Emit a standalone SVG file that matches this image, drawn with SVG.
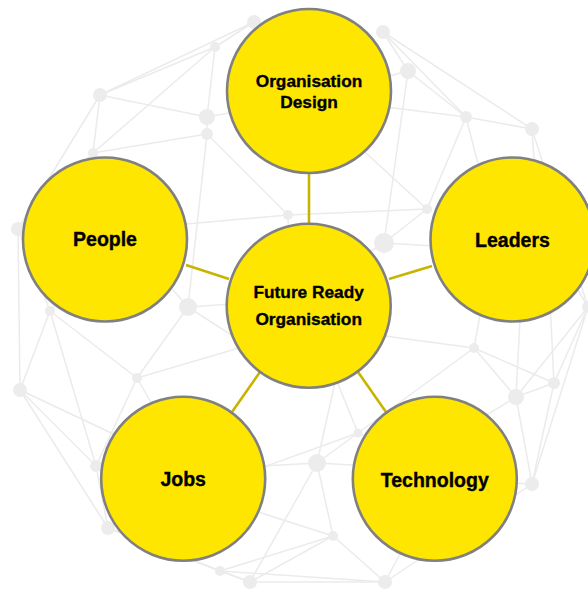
<svg xmlns="http://www.w3.org/2000/svg" width="588" height="589" viewBox="0 0 588 589">
<style>
.mesh line{stroke:#ebebeb;stroke-width:1.5}
.dot{fill:#ececec}
.conn line{stroke:#c8b400;stroke-width:2.6}
.node circle{fill:#ffe600;stroke:#808080;stroke-width:2.6}
.node text{font-family:"Liberation Sans",Arial,sans-serif;font-weight:bold;fill:#000;stroke:#000;stroke-width:0.35;text-anchor:middle}
.lg{font-size:19.5px}
.sm{font-size:17.3px}
</style>
<rect width="588" height="589" fill="#ffffff"/>
<g id="mesh" class="mesh">
<line x1="254" y1="22" x2="215" y2="47"/>
<line x1="254" y1="22" x2="100" y2="95"/>
<line x1="215" y1="47" x2="100" y2="95"/>
<line x1="215" y1="47" x2="207" y2="117"/>
<line x1="215" y1="47" x2="93" y2="153"/>
<line x1="100" y1="95" x2="207" y2="117"/>
<line x1="100" y1="95" x2="93" y2="153"/>
<line x1="100" y1="95" x2="18" y2="229"/>
<line x1="207" y1="117" x2="207" y2="134"/>
<line x1="207" y1="117" x2="300" y2="100"/>
<line x1="207" y1="134" x2="93" y2="153"/>
<line x1="207" y1="134" x2="288" y2="215"/>
<line x1="207" y1="134" x2="188" y2="307"/>
<line x1="93" y1="153" x2="18" y2="229"/>
<line x1="93" y1="153" x2="120" y2="230"/>
<line x1="288" y1="215" x2="120" y2="230"/>
<line x1="288" y1="215" x2="427" y2="209"/>
<line x1="288" y1="215" x2="290" y2="300"/>
<line x1="383" y1="32" x2="408" y2="71"/>
<line x1="383" y1="32" x2="532" y2="129"/>
<line x1="383" y1="32" x2="466" y2="117"/>
<line x1="408" y1="71" x2="466" y2="117"/>
<line x1="408" y1="71" x2="384" y2="243"/>
<line x1="408" y1="71" x2="300" y2="100"/>
<line x1="466" y1="117" x2="532" y2="129"/>
<line x1="466" y1="117" x2="427" y2="209"/>
<line x1="466" y1="117" x2="500" y2="250"/>
<line x1="466" y1="117" x2="330" y2="100"/>
<line x1="532" y1="129" x2="540" y2="250"/>
<line x1="532" y1="129" x2="588" y2="307"/>
<line x1="427" y1="209" x2="384" y2="243"/>
<line x1="427" y1="209" x2="330" y2="120"/>
<line x1="384" y1="243" x2="500" y2="250"/>
<line x1="384" y1="243" x2="290" y2="300"/>
<line x1="18" y1="229" x2="20" y2="390"/>
<line x1="18" y1="229" x2="50" y2="311"/>
<line x1="50" y1="311" x2="20" y2="390"/>
<line x1="50" y1="311" x2="137" y2="378"/>
<line x1="50" y1="311" x2="96" y2="466"/>
<line x1="50" y1="311" x2="120" y2="230"/>
<line x1="188" y1="307" x2="137" y2="378"/>
<line x1="188" y1="307" x2="290" y2="300"/>
<line x1="188" y1="307" x2="120" y2="230"/>
<line x1="188" y1="307" x2="270" y2="360"/>
<line x1="137" y1="378" x2="96" y2="466"/>
<line x1="137" y1="378" x2="300" y2="330"/>
<line x1="137" y1="378" x2="190" y2="470"/>
<line x1="20" y1="390" x2="96" y2="466"/>
<line x1="20" y1="390" x2="108" y2="528"/>
<line x1="20" y1="390" x2="190" y2="470"/>
<line x1="96" y1="466" x2="108" y2="528"/>
<line x1="108" y1="528" x2="220" y2="571"/>
<line x1="108" y1="528" x2="250" y2="582"/>
<line x1="108" y1="528" x2="190" y2="470"/>
<line x1="220" y1="571" x2="250" y2="582"/>
<line x1="220" y1="571" x2="333" y2="536"/>
<line x1="250" y1="582" x2="385" y2="582"/>
<line x1="250" y1="582" x2="317" y2="463"/>
<line x1="250" y1="582" x2="333" y2="536"/>
<line x1="220" y1="571" x2="385" y2="582"/>
<line x1="317" y1="463" x2="358" y2="433"/>
<line x1="317" y1="463" x2="333" y2="536"/>
<line x1="317" y1="463" x2="190" y2="470"/>
<line x1="317" y1="463" x2="340" y2="360"/>
<line x1="317" y1="463" x2="440" y2="470"/>
<line x1="358" y1="433" x2="320" y2="340"/>
<line x1="358" y1="433" x2="474" y2="348"/>
<line x1="358" y1="433" x2="440" y2="470"/>
<line x1="358" y1="433" x2="200" y2="490"/>
<line x1="333" y1="536" x2="385" y2="582"/>
<line x1="333" y1="536" x2="190" y2="490"/>
<line x1="385" y1="582" x2="440" y2="480"/>
<line x1="385" y1="582" x2="532" y2="484"/>
<line x1="474" y1="348" x2="516" y2="397"/>
<line x1="474" y1="348" x2="554" y2="383"/>
<line x1="474" y1="348" x2="490" y2="260"/>
<line x1="474" y1="348" x2="340" y2="330"/>
<line x1="516" y1="397" x2="554" y2="383"/>
<line x1="516" y1="397" x2="532" y2="484"/>
<line x1="516" y1="397" x2="523" y2="260"/>
<line x1="516" y1="397" x2="430" y2="450"/>
<line x1="516" y1="397" x2="588" y2="307"/>
<line x1="554" y1="383" x2="532" y2="484"/>
<line x1="554" y1="383" x2="588" y2="307"/>
<line x1="554" y1="383" x2="548" y2="260"/>
<line x1="532" y1="484" x2="588" y2="307"/>
<line x1="532" y1="484" x2="440" y2="480"/>
<line x1="588" y1="307" x2="560" y2="260"/>
<circle class="dot" cx="254" cy="22" r="7"/>
<circle class="dot" cx="215" cy="47" r="5"/>
<circle class="dot" cx="100" cy="95" r="7"/>
<circle class="dot" cx="207" cy="117" r="8"/>
<circle class="dot" cx="207" cy="134" r="6"/>
<circle class="dot" cx="93" cy="153" r="5"/>
<circle class="dot" cx="288" cy="215" r="5"/>
<circle class="dot" cx="18" cy="229" r="7"/>
<circle class="dot" cx="383" cy="32" r="7"/>
<circle class="dot" cx="408" cy="71" r="8"/>
<circle class="dot" cx="466" cy="117" r="6"/>
<circle class="dot" cx="532" cy="129" r="7"/>
<circle class="dot" cx="427" cy="209" r="5"/>
<circle class="dot" cx="384" cy="243" r="10"/>
<circle class="dot" cx="50" cy="311" r="5"/>
<circle class="dot" cx="188" cy="307" r="9"/>
<circle class="dot" cx="20" cy="390" r="7"/>
<circle class="dot" cx="137" cy="378" r="5"/>
<circle class="dot" cx="96" cy="466" r="6"/>
<circle class="dot" cx="108" cy="528" r="7"/>
<circle class="dot" cx="220" cy="571" r="5"/>
<circle class="dot" cx="250" cy="582" r="7"/>
<circle class="dot" cx="474" cy="348" r="5"/>
<circle class="dot" cx="516" cy="397" r="8"/>
<circle class="dot" cx="554" cy="383" r="6"/>
<circle class="dot" cx="532" cy="484" r="7"/>
<circle class="dot" cx="317" cy="463" r="9"/>
<circle class="dot" cx="358" cy="433" r="4.5"/>
<circle class="dot" cx="333" cy="536" r="5"/>
<circle class="dot" cx="385" cy="582" r="7"/>
<circle class="dot" cx="588" cy="307" r="6"/>
</g>
<g id="connectors" class="conn">
<line x1="309" y1="174" x2="309" y2="224"/>
<line x1="186" y1="265" x2="229" y2="279"/>
<line x1="389" y1="279" x2="432" y2="266"/>
<line x1="260" y1="372" x2="232" y2="412"/>
<line x1="358" y1="372" x2="386" y2="412"/>
</g>
<g id="node-design" class="node">
<circle cx="309" cy="91" r="82"/>
<text class="sm" x="309" y="87">Organisation</text>
<text class="sm" x="309" y="108">Design</text>
</g>
<g id="node-people" class="node">
<circle cx="105" cy="239.5" r="82"/>
<text class="lg" x="105" y="246">People</text>
</g>
<g id="node-leaders" class="node">
<circle cx="512.5" cy="239.5" r="82"/>
<text class="lg" x="512.5" y="246.5">Leaders</text>
</g>
<g id="node-center" class="node">
<circle cx="308.7" cy="305.8" r="82"/>
<text class="sm" x="308.7" y="298">Future Ready</text>
<text class="sm" x="308.7" y="325">Organisation</text>
</g>
<g id="node-jobs" class="node">
<circle cx="183.2" cy="478.7" r="82"/>
<text class="lg" x="183.2" y="486">Jobs</text>
</g>
<g id="node-technology" class="node">
<circle cx="434.8" cy="478.8" r="82"/>
<text class="lg" x="434.8" y="486.5">Technology</text>
</g>
</svg>
